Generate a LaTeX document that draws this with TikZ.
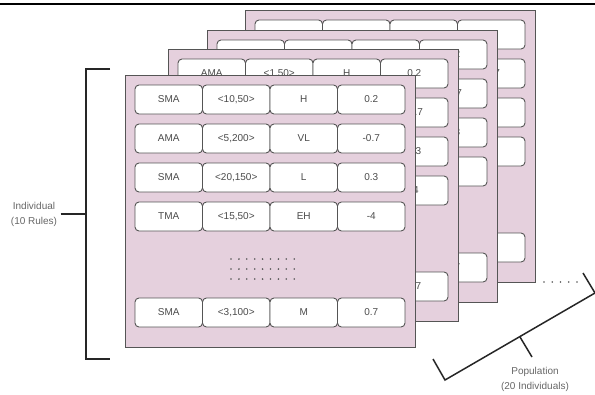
\documentclass[tikz,border=0pt]{standalone}
\usepackage{fontspec}
\setmainfont{Liberation Sans}
\usepackage{xcolor}
\definecolor{cardpink}{RGB}{229,208,221}
\definecolor{lineg}{RGB}{85,85,85}
\definecolor{txtg}{RGB}{75,75,75}
\usetikzlibrary{positioning}

\begin{document}
\begin{tikzpicture}[x=1pt,y=-1pt,
  card/.style={draw=lineg,fill=cardpink,line width=0.8pt,anchor=north west,minimum width=290pt,minimum height=272pt,inner sep=0pt,outer sep=0pt},
  cell/.style={draw=lineg,fill=white,rounded corners=4pt,line width=0.9pt,minimum width=67.5pt,minimum height=29pt,inner sep=0pt,outer sep=0pt,font=\fontsize{10}{12}\selectfont,text=txtg},
  brk/.style={line width=1.5pt,black!85},
  lbl/.style={font=\fontsize{10}{15}\selectfont,text=txtg!85,align=center}]
  \useasboundingbox (0,0) rectangle (595,394);
  % Top rule
  \draw[line width=1.3pt] (0,4) -- (595,4);
  % Individuals, back to front (\shown = rows whose first three texts are visible)
  \foreach \n/\cx/\cy/\shown/\firstA/\firstB in {4/245/10/0/AMA/{<1,50>},3/207/30/0/AMA/{<1,50>},2/168/49/1/AMA/{<1,50>},1/125/75/5/SMA/{<10,50>}}{
    \node[card] (card\n) at (\cx,\cy) {};
    % Rules
    \foreach \r/\ry/\tA/\tB/\tC/\tD in {1/10/\firstA/\firstB/H/0.2,2/49/AMA/{<5,200>}/VL/-0.7,3/88/SMA/{<20,150>}/L/0.3,4/127/TMA/{<15,50>}/EH/-4,5/223/SMA/{<3,100>}/M/0.7}{
      \node[cell,anchor=north west] (c\n-\r-a) at (\cx+10,\cy+\ry) {\ifnum\r>\shown\else\tA\fi};
      \node[cell,right=0pt of c\n-\r-a] (c\n-\r-b) {\ifnum\r>\shown\else\tB\fi};
      \node[cell,right=0pt of c\n-\r-b] (c\n-\r-c) {\ifnum\r>\shown\else\tC\fi};
      \node[cell,right=0pt of c\n-\r-c] (c\n-\r-d) {\tD};
    }
    % Dots
    \foreach \j in {0,1,2}
      \foreach \i in {0,...,8}
        \fill[lineg] (\cx+106+\i*7.9,\cy+184+\j*10) circle (0.9pt);
  }
  % Individual bracket
  \node[lbl] (ind) at (34,214) {Individual\\(10 Rules)};
  \coordinate (indtop) at (110,69);
  \coordinate (indbot) at (110,359);
  \coordinate (indmid) at (86,214);
  \draw[brk] (indtop) -- ++(-24,0) |- (indbot);
  \draw[brk] (ind.east) -- (indmid);
  % More individuals
  \foreach \i in {0,...,4}
    \fill[lineg] (544+\i*8.25,282) circle (0.9pt);
  % Population bracket
  \node[lbl] (pop) at (535,379) {Population\\(20 Individuals)};
  \coordinate (popa) at (433,359);
  \coordinate (popb) at (445,380);
  \coordinate (popc) at (595,293);
  \coordinate (popd) at (583,273);
  \coordinate (popm) at (520,337);
  \coordinate (popt) at (532,357);
  \draw[brk] (popa) -- (popb) -- (popc) -- (popd);
  \draw[brk] (popm) -- (popt);
\end{tikzpicture}
\end{document}
